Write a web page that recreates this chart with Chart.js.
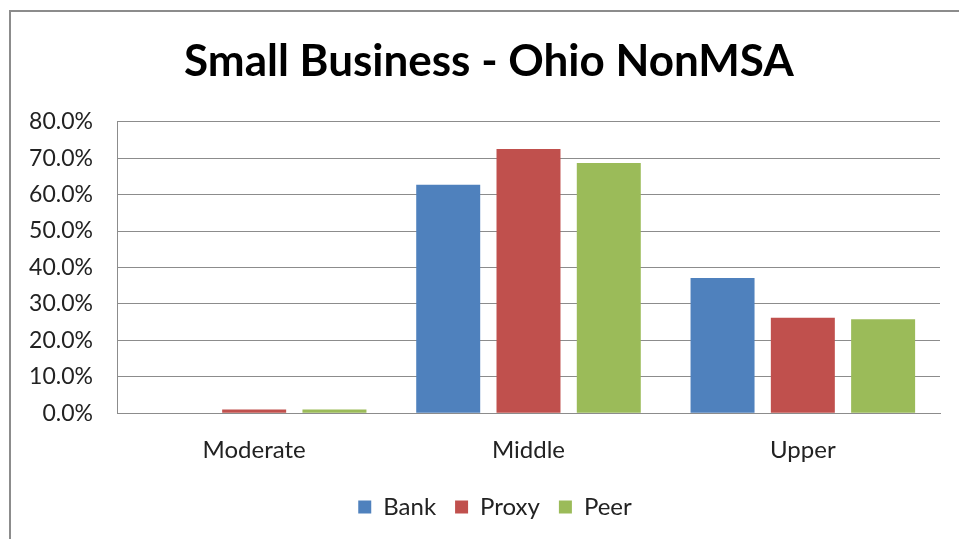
<!DOCTYPE html>
<html>
<head>
<meta charset="utf-8">
<script src="https://cdn.jsdelivr.net/npm/chart.js@4/dist/chart.umd.min.js"></script>
<style>
  html, body { margin: 0; padding: 0; background: #fff; }
  #frame { position: absolute; left: 9px; top: 10px; width: 980px; height: 560px; border-left: 2px solid #8c8c8c; border-top: 2px solid #8c8c8c; }
  #wrap { position: absolute; left: 0; top: 0; width: 959px; height: 539px; }
</style>
</head>
<body>
<div id="frame"></div>
<div id="wrap"><canvas id="c" width="959" height="539"></canvas></div>
<script>
const categories = ["Moderate", "Middle", "Upper"];
const seriesNames = ["Bank", "Proxy", "Peer"];
const bankValues = [0.0, 62.7, 37.1];
const proxyValues = [1.0, 72.5, 26.2];
const peerValues = [1.0, 68.7, 25.8];
const yTicks = [0, 10, 20, 30, 40, 50, 60, 70, 80];
const colors = ["#4F81BD", "#C0504D", "#9BBB59"];

const font = "Lato, 'Open Sans', 'DejaVu Sans', sans-serif";

// centre title and legend on the bordered frame (which starts at x=9) rather than the canvas
const frameCentering = {
  id: 'frameCentering',
  afterLayout(chart) {
    if (chart.titleBlock) chart.titleBlock.left += 18;
    if (chart.legend) chart.legend.left += 30;
  }
};

new Chart(document.getElementById('c'), {
  type: 'bar',
  data: {
    labels: categories,
    datasets: [bankValues, proxyValues, peerValues].map((vals, i) => ({
      label: seriesNames[i],
      data: vals,
      backgroundColor: colors[i],
      borderWidth: 0,
      categoryPercentage: 0.878,
      barPercentage: 0.797
    }))
  },
  plugins: [frameCentering],
  options: {
    responsive: false,
    animation: false,
    devicePixelRatio: 1,
    layout: { padding: { left: 20, right: 19, top: 35, bottom: 10 } },
    plugins: {
      title: {
        display: true,
        text: "Small Business - Ohio NonMSA",
        color: "#000",
        font: { family: font, size: 44, weight: 'bold' },
        padding: { top: 0, bottom: 34 }
      },
      legend: {
        position: 'bottom',
        labels: {
          color: "#222",
          font: { family: font, size: 24 },
          boxWidth: 13,
          boxHeight: 13,
          padding: 19
        }
      },
      tooltip: { enabled: false }
    },
    scales: {
      x: {
        afterFit: s => { s.height -= 12; },
        grid: { display: false, drawTicks: false },
        border: { display: true, color: "#8c8c8c", width: 1 },
        ticks: { color: "#222", font: { family: font, size: 24 }, padding: 23 }
      },
      y: {
        min: 0,
        max: 80,
        afterBuildTicks: s => { s.ticks = yTicks.map(v => ({ value: v })); },
        afterFit: s => { s.width = 97; },
        grid: { color: "#8c8c8c", lineWidth: 1, drawTicks: false },
        border: { display: true, color: "#8c8c8c", width: 1 },
        ticks: {
          color: "#222",
          font: { family: font, size: 23 },
          padding: 24,
          callback: v => v.toFixed(1) + "%"
        }
      }
    }
  }
});
</script>
</body>
</html>
